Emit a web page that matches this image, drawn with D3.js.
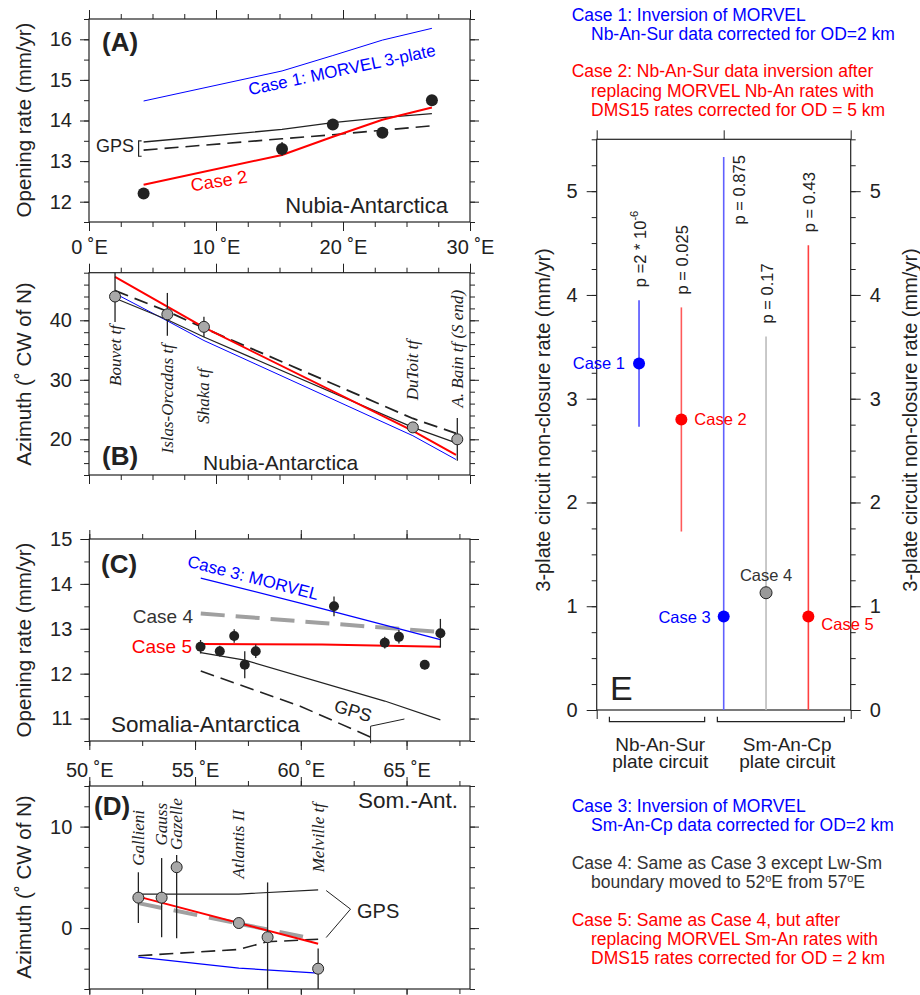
<!DOCTYPE html>
<html>
<head>
<meta charset="UTF-8">
<title>Plate circuit non-closure</title>
<style>
    body { margin: 0; background: #fff; }
    svg text { font-family: 'Liberation Sans', Arial, Helvetica, sans-serif; fill: #222; }
    svg text.it { font-family: 'Liberation Serif', 'Times New Roman', serif; font-style: italic; }
</style>
</head>
<body>
<svg id="fig" width="920" height="995"></svg>
<script src="https://cdnjs.cloudflare.com/ajax/libs/d3/7.8.5/d3.min.js"></script>
<script>
// ---- Panel A : Nubia-Antarctica opening rate ----
const aLon = [4.3, 15.2, 19.2, 23.1, 27.0];
const aRate = [12.2, 13.3, 13.9, 13.7, 14.5];
const aErr = [0, 0.17, 0, 0, 0];
const aCase1 = [14.48, 15.22, 15.6, 15.98, 16.27];
const aCase2 = [12.42, 13.15, 13.6, 14.02, 14.32];
const aGps = [13.47, 13.78, 13.95, 14.07, 14.17];
const aGpsDash = [13.27, 13.55, 13.65, 13.76, 13.87];

// ---- Panel B : Nubia-Antarctica azimuth ----
const bNames = ["Bouvet tf", "Islas-Orcadas tf", "Shaka tf", "DuToit tf", "A. Bain tf (S end)"];
const bLon = [2.05, 6.17, 9.05, 25.5, 29.0];
const bAz = [44.0, 41.0, 38.9, 22.0, 20.0];
const bErr = [4.3, 3.6, 1.7, 0, 3.6];
const bLineLon = [2.05, 6.17, 9.05, 25.5, 28.9];
const bCase1 = [44.5, 39.9, 36.6, 20.6, 16.6];
const bCase2 = [47.3, 42.3, 38.8, 21.4, 17.4];
const bGps = [43.7, 40.1, 37.2, 22.0, 19.4];
const bGpsDash = [45.0, 41.5, 38.7, 23.5, 21.0];

// ---- Panel C : Somalia-Antarctica opening rate ----
const cLon = [55.26, 56.17, 56.85, 57.35, 57.87, 61.57, 63.97, 64.64, 65.86, 66.6];
const cRate = [12.6, 12.5, 12.84, 12.2, 12.5, 13.5, 12.69, 12.82, 12.2, 12.9];
const cErr = [0.15, 0.12, 0.15, 0.3, 0.15, 0.22, 0.13, 0.15, 0.1, 0.32];
const cCaseLon = [55.27, 61.0, 66.6];
const cCase3 = [14.13, 13.45, 12.76];
const cCase4 = [13.34, 13.13, 12.93];
const cCase5 = [12.66, 12.65, 12.6];
const cGpsLon = [55.27, 57.35, 63.97, 66.6];
const cGps = [12.47, 12.3, 11.39, 10.97];
const cGpsDashLon = [55.27, 60.0, 63.57];
const cGpsDash = [12.06, 11.27, 10.53];

// ---- Panel D : Somalia-Antarctica azimuth ----
const dNames = ["Gallieni", "Gauss", "Gazelle", "Atlantis II", "", "Melville tf"];
const dLon = [52.32, 53.42, 54.13, 57.07, 58.43, 60.82];
const dAz = [3.0, 3.0, 6.0, 0.5, -0.9, -4.0];
const dErrLo = [2.5, 3.9, 7.0, 0, 5.4, 2.0];
const dErrHi = [2.5, 3.9, 1.2, 0, 5.4, 2.0];
const dGpsLon = [52.32, 57.07, 60.82];
const dGps = [3.35, 3.35, 3.77];
const dCase5Lon = [52.32, 60.82];
const dCase5 = [3.1, -1.55];
const dCase4Lon = [52.32, 60.43];
const dCase4 = [2.46, -0.98];
const dGpsDashLon = [52.32, 57.07, 58.4, 60.82];
const dGpsDash = [-2.72, -2.1, -1.35, -1.1];
const dCase3Lon = [52.32, 57.07, 60.82];
const dCase3 = [-2.86, -3.94, -4.43];

// ---- Panel E : non-closure rates ----
const eCases = ["Case 1", "Case 2", "Case 3", "Case 4", "Case 5"];
const eRate = [3.34, 2.80, 0.90, 1.13, 0.90];
const eErr = [0.61, 1.08, 4.43, 2.47, 3.58];
const eP = ["p =2 * 10", "p = 0.025", "p = 0.875", "p = 0.17", "p = 0.43"];

const INK = "#222", BLUE = "#0000ff", RED = "#ff0000", GRAY = "#a0a0a0";
const svg = d3.select("#fig");

function tickAxis(g, axisFn, scale, tr, vals, size, fmt, pad) {
    const ax = axisFn(scale).tickValues(vals).tickSize(size).tickSizeOuter(0)
        .tickPadding(pad || 8).tickFormat(fmt || (() => ""));
    const a = g.append("g").attr("transform", tr).call(ax);
    a.select(".domain").remove();
    a.attr("font-family", null).attr("font-size", null);
    a.selectAll("line").attr("stroke", INK).attr("stroke-width", 1);
    a.selectAll("text").attr("font-size", 20).attr("fill", INK);
    return a;
}

function framePanel(x, y, o) {
    const g = svg.append("g");
    const [x0, x1] = x.range(), [yb, yt] = y.range();
    g.append("rect").attr("x", x0).attr("y", yt).attr("width", x1 - x0).attr("height", yb - yt)
        .attr("fill", "none").attr("stroke", INK).attr("stroke-width", 1.2);
    tickAxis(g, d3.axisLeft, y, `translate(${x0},0)`, o.yMinor, 5);
    tickAxis(g, d3.axisLeft, y, `translate(${x0},0)`, o.yMajor, o.yLen || 9, o.yFmt, o.yPad);
    tickAxis(g, d3.axisRight, y, `translate(${x1},0)`, o.yMinor, 5);
    tickAxis(g, d3.axisRight, y, `translate(${x1},0)`, o.yMajor, o.yLen || 9, o.yFmtR, o.yPad);
    tickAxis(g, d3.axisTop, x, `translate(0,${yt})`, o.xMinor, 5);
    tickAxis(g, d3.axisTop, x, `translate(0,${yt})`, o.xMajor, 9);
    tickAxis(g, d3.axisBottom, x, `translate(0,${yb})`, o.xMinor, 5);
    tickAxis(g, d3.axisBottom, x, `translate(0,${yb})`, o.xMajorB || o.xMajor, 9, o.xFmt, o.xPad);
    return g;
}

function drawLine(g, x, y, lon, vals, color, w, dash) {
    const ln = d3.line().x(d => x(d[0])).y(d => y(d[1]));
    g.append("path").datum(d3.zip(lon, vals)).attr("d", ln)
        .attr("fill", "none").attr("stroke", color).attr("stroke-width", w)
        .attr("stroke-dasharray", dash || null);
}

function drawPoints(g, x, y, lon, vals, lo, hi, r, fill) {
    const [dmin, dmax] = y.domain();
    lon.forEach((v, i) => {
        if (lo[i] > 0 || hi[i] > 0) {
            g.append("line").attr("x1", x(v)).attr("x2", x(v))
                .attr("y1", y(Math.max(dmin, vals[i] - lo[i])))
                .attr("y2", y(Math.min(dmax, vals[i] + hi[i])))
                .attr("stroke", INK).attr("stroke-width", 1.3);
        }
    });
    g.selectAll(null).data(d3.zip(lon, vals)).join("circle")
        .attr("cx", d => x(d[0])).attr("cy", d => y(d[1])).attr("r", r)
        .attr("fill", fill).attr("stroke", fill === INK ? "none" : INK).attr("stroke-width", 1);
}

function label(g, txt, x, y, o) {
    o = o || {};
    const t = g.append("text").attr("transform", `translate(${x},${y}) rotate(${o.rot || 0})`)
        .attr("font-size", o.size || 18).attr("text-anchor", o.anchor || "start")
        .text(txt);
    if (o.color) t.style("fill", o.color);
    if (o.bold) t.attr("font-weight", "bold");
    if (o.cls) t.attr("class", o.cls);
    if (o.base) t.attr("dominant-baseline", o.base);
    return t;
}

const degE = d => d + " \u02DAE";

// ================= Panel A =================
const xA = d3.scaleLinear().domain([0, 30]).range([89, 470]);
const yA = d3.scaleLinear().domain([11.5, 16.5]).range([222, 19]);
const gA = framePanel(xA, yA, {
    yMajor: d3.range(12, 16.01, 1), yMinor: d3.range(11.5, 16.51, 0.5), yFmt: d => d, yFmtR: () => "",
    xMajor: [0, 10, 20, 30], xMinor: d3.range(0, 30.01, 2.5), xFmt: degE, xPad: 9
});
drawLine(gA, xA, yA, aLon, aCase1, BLUE, 1);
drawLine(gA, xA, yA, aLon, aGps, INK, 1.3);
drawLine(gA, xA, yA, aLon, aGpsDash, INK, 1.6, "14,7");
drawLine(gA, xA, yA, aLon, aCase2, RED, 2);
drawPoints(gA, xA, yA, aLon, aRate, aErr, aErr, 6, INK);
label(gA, "(A)", 102, 51, { bold: true, size: 26 });
label(gA, "Case 1: MORVEL 3-plate", 342, 70, { rot: -12, anchor: "middle", base: "central", size: 17, color: BLUE });
label(gA, "Case 2", 219, 181, { rot: -9, anchor: "middle", base: "central", size: 18, color: RED });
label(gA, "Nubia-Antarctica", 448, 213, { anchor: "end", size: 22 });
label(gA, "GPS", 134, 152, { anchor: "end", size: 18 });
gA.append("path")
    .attr("d", `M${xA(4.3) - 2},${yA(13.5)} H${xA(4.3) - 5} V${yA(13.12)} H${xA(4.3) - 2}`)
    .attr("fill", "none").attr("stroke", INK).attr("stroke-width", 1.2);
label(svg, "Opening rate (mm/yr)", 23, 120, { rot: -90, anchor: "middle", base: "central", size: 20.5 });

// ================= Panel B =================
const yB = d3.scaleLinear().domain([14, 48]).range([475, 272.7]);
const gB = framePanel(xA, yB, {
    yMajor: [20, 30, 40], yMinor: d3.range(14, 48.01, 2), yFmt: d => d, yFmtR: () => "",
    xMajor: [0, 10, 20, 30], xMinor: d3.range(0, 30.01, 2.5)
});
drawLine(gB, xA, yB, bLineLon, bCase1, BLUE, 1);
drawLine(gB, xA, yB, bLineLon, bGps, INK, 1.2);
drawLine(gB, xA, yB, bLineLon, bGpsDash, INK, 1.8, "14,7");
drawLine(gB, xA, yB, bLineLon, bCase2, RED, 2);
drawPoints(gB, xA, yB, bLon, bAz, bErr, bErr, 5.5, "#a8a8a8");
const bLabelAt = [39.2, 36.0, 31.9, 36.7, 45.1];
bNames.forEach((n, i) => {
    label(gB, n, xA(bLon[i]), yB(bLabelAt[i]), { rot: -90, anchor: "end", base: "central", size: 17, cls: "it" });
});
label(gB, "(B)", 102, 465, { bold: true, size: 26 });
label(gB, "Nubia-Antarctica", 203, 470, { size: 21 });
label(svg, "Azimuth (\u02DA CW of N)", 23, 374, { rot: -90, anchor: "middle", base: "central", size: 20.5 });

// ================= Panel C =================
const xC = d3.scaleLinear().domain([50, 68]).range([89.3, 470]);
const yC = d3.scaleLinear().domain([10.5, 15]).range([741, 539]);
const gC = framePanel(xC, yC, {
    yMajor: d3.range(11, 15.01, 1), yMinor: d3.range(10.5, 15.01, 0.5), yFmt: d => d, yFmtR: () => "",
    xMajor: [50, 55, 60, 65], xMinor: d3.range(50, 68, 2.5), xFmt: degE, xPad: 13
});
drawLine(gC, xC, yC, cGpsLon, cGps, INK, 1.2);
drawLine(gC, xC, yC, cGpsDashLon, cGpsDash, INK, 1.6, "14,7");
drawLine(gC, xC, yC, cCaseLon, cCase4, GRAY, 4, "24,11");
drawLine(gC, xC, yC, cCaseLon, cCase3, BLUE, 1.2);
drawLine(gC, xC, yC, cCaseLon, cCase5, RED, 2);
drawPoints(gC, xC, yC, cLon, cRate, cErr, cErr, 5, INK);
label(gC, "(C)", 101, 573, { bold: true, size: 26 });
label(gC, "Case 3: MORVEL", 253, 578, { rot: 14.5, anchor: "middle", base: "central", size: 17, color: BLUE });
label(gC, "Case 4", 193, 623, { anchor: "end", size: 19, color: "#333" });
label(gC, "Case 5", 192, 653, { anchor: "end", size: 19, color: RED });
label(gC, "Somalia-Antarctica", 111, 732, { size: 22.5 });
label(gC, "GPS", 353, 711, { rot: 17, anchor: "middle", base: "central", size: 18 });
gC.append("path")
    .attr("d", `M${xC(64.9)},${yC(10.99)} L${xC(63.3)},${yC(10.83)} V${yC(10.45)}`)
    .attr("fill", "none").attr("stroke", INK).attr("stroke-width", 1);
label(svg, "Opening rate (mm/yr)", 23, 640, { rot: -90, anchor: "middle", base: "central", size: 20.5 });

// ================= Panel D =================
const yD = d3.scaleLinear().domain([-6, 14]).range([989, 786]);
const gD = framePanel(xC, yD, {
    yMajor: [0, 10], yMinor: d3.range(-6, 14.01, 2), yFmt: d => d, yFmtR: () => "",
    xMajor: [50, 55, 60, 65], xMinor: d3.range(50, 68, 2.5)
});
drawLine(gD, xC, yD, dGpsLon, dGps, INK, 1.1);
drawLine(gD, xC, yD, dCase4Lon, dCase4, GRAY, 4, "24,12");
drawLine(gD, xC, yD, dGpsDashLon, dGpsDash, INK, 1.6, "14,7");
drawLine(gD, xC, yD, dCase3Lon, dCase3, BLUE, 1.2);
drawLine(gD, xC, yD, dCase5Lon, dCase5, RED, 2);
drawPoints(gD, xC, yD, dLon, dAz, dErrLo, dErrHi, 5.5, "#a8a8a8");
const dLabelAt = [11.64, 12.33, 12.8, 11.64, 0, 12.33];
dNames.forEach((n, i) => {
    if (n) label(gD, n, xC(dLon[i]), yD(dLabelAt[i]), { rot: -90, anchor: "end", base: "central", size: 17, cls: "it" });
});
label(gD, "(D)", 94, 815, { bold: true, size: 26 });
label(gD, "Som.-Ant.", 458, 808, { anchor: "end", size: 22.5 });
label(gD, "GPS", 357, 918, { size: 20 });
gD.append("path")
    .attr("d", `M${xC(61.2)},${yD(3.7)} L${xC(62.35)},${yD(1.87)} L${xC(61.2)},${yD(-0.93)}`)
    .attr("fill", "none").attr("stroke", INK).attr("stroke-width", 1);
label(svg, "Azimuth (\u02DA CW of N)", 23, 887, { rot: -90, anchor: "middle", base: "central", size: 20.5 });

// ================= Panel E =================
const xE = d3.scaleLinear().domain([0, 6]).range([596.7, 850.7]);
const yE = d3.scaleLinear().domain([0, 5.5]).range([710, 139.3]);
const gE = framePanel(xE, yE, {
    yMajor: d3.range(0, 5.01, 1), yMinor: d3.range(0, 5.51, 0.25), yFmt: d => d, yFmtR: d => d,
    yLen: 10, yPad: 9,
    xMajor: [0, 3, 6], xMajorB: [0, 6], xMinor: []
});
const eColor = [BLUE, RED, BLUE, "#999", RED];
const eBar = ["#5050ff", "#ff5a5a", "#6060ff", "#bcbcbc", "#ff4040"];
eRate.forEach((v, i) => {
    const cx = xE(i + 1);
    gE.append("line").attr("x1", cx).attr("x2", cx)
        .attr("y1", yE(Math.max(0, v - eErr[i]))).attr("y2", yE(Math.min(5.5, v + eErr[i])))
        .attr("stroke", eBar[i]).attr("stroke-width", 1.6);
});
gE.selectAll(null).data(eRate).join("circle")
    .attr("cx", (d, i) => xE(i + 1)).attr("cy", d => yE(d)).attr("r", 6)
    .attr("fill", (d, i) => eColor[i]).attr("stroke", (d, i) => i === 3 ? INK : "none");

// case labels around the points
const eLab = [
    { dx: -14, dy: 0, anchor: "end" }, { dx: 13, dy: 0, anchor: "start" },
    { dx: -13, dy: 0, anchor: "end" }, { dx: 0, dy: -18, anchor: "middle" },
    { dx: 13, dy: 7, anchor: "start" }
];
eCases.forEach((c, i) => {
    label(gE, c, xE(i + 1) + eLab[i].dx, yE(eRate[i]) + eLab[i].dy,
        { anchor: eLab[i].anchor, base: "central", size: 16.5, color: i === 3 ? "#333" : eColor[i] });
});
// p-value labels
eP.forEach((p, i) => {
    const top = eRate[i] + eErr[i];
    const side = top > 5.2;
    const px = xE(i + 1) + (side ? 15 : 1);
    const py = side ? yE(4.68) : yE(top) - 13;
    const t = label(gE, p, px, py, { rot: -90, anchor: "start", base: "central", size: 16.5 });
    if (i === 0) t.append("tspan").attr("font-size", 11).attr("baseline-shift", "super").text("-6");
});
label(gE, "E", 610, 700, { size: 34 });
label(svg, "3-plate circuit non-closure rate (mm/yr)", 543, 420, { rot: -90, anchor: "middle", base: "central", size: 20 });
label(svg, "3-plate circuit non-closure rate (mm/yr)", 910, 420, { rot: -90, anchor: "middle", base: "central", size: 20 });

// plate circuit brackets
[[0.3, 2.55, "Nb-An-Sur"], [2.85, 5.85, "Sm-An-Cp"]].forEach(b => {
    gE.append("path").attr("d", `M${xE(b[0])},716.7 V721.7 H${xE(b[1])} V716.7`)
        .attr("fill", "none").attr("stroke", INK).attr("stroke-width", 1.2);
    const cx = xE(b[0] === 0.3 ? 1.5 : 4.5);
    label(gE, b[2], cx, 751, { anchor: "middle", size: 19 });
    label(gE, "plate circuit", cx, 768, { anchor: "middle", size: 19 });
});

// ---- case descriptions ----
const notes = [
    { y: 20.5, color: BLUE, lines: ["Case 1: Inversion of MORVEL", "Nb-An-Sur data corrected for OD=2 km"] },
    { y: 77.3, color: RED, lines: ["Case 2: Nb-An-Sur data inversion after", "replacing MORVEL Nb-An rates with", "DMS15 rates corrected for OD = 5 km"] },
    { y: 811.7, color: BLUE, lines: ["Case 3: Inversion of MORVEL", "Sm-An-Cp data corrected for OD=2 km"] },
    { y: 869, color: "#333", lines: ["Case 4: Same as Case 3 except Lw-Sm", "boundary moved to 52|E from 57|E"] },
    { y: 925.7, color: RED, lines: ["Case 5: Same as Case 4, but after", "replacing MORVEL Sm-An rates with", "DMS15 rates corrected for OD = 2 km"] }
];
notes.forEach(n => {
    n.lines.forEach((s, j) => {
        const t = svg.append("text").attr("x", j === 0 ? 571.7 : 591).attr("y", n.y + j * 19.2)
            .attr("font-size", 17.5).style("fill", n.color);
        s.split("|").forEach((part, k) => {
            if (k > 0) t.append("tspan").attr("font-size", 11).attr("baseline-shift", "super").text("o");
            t.append("tspan").text(part);
        });
    });
});
</script>
</body>
</html>
